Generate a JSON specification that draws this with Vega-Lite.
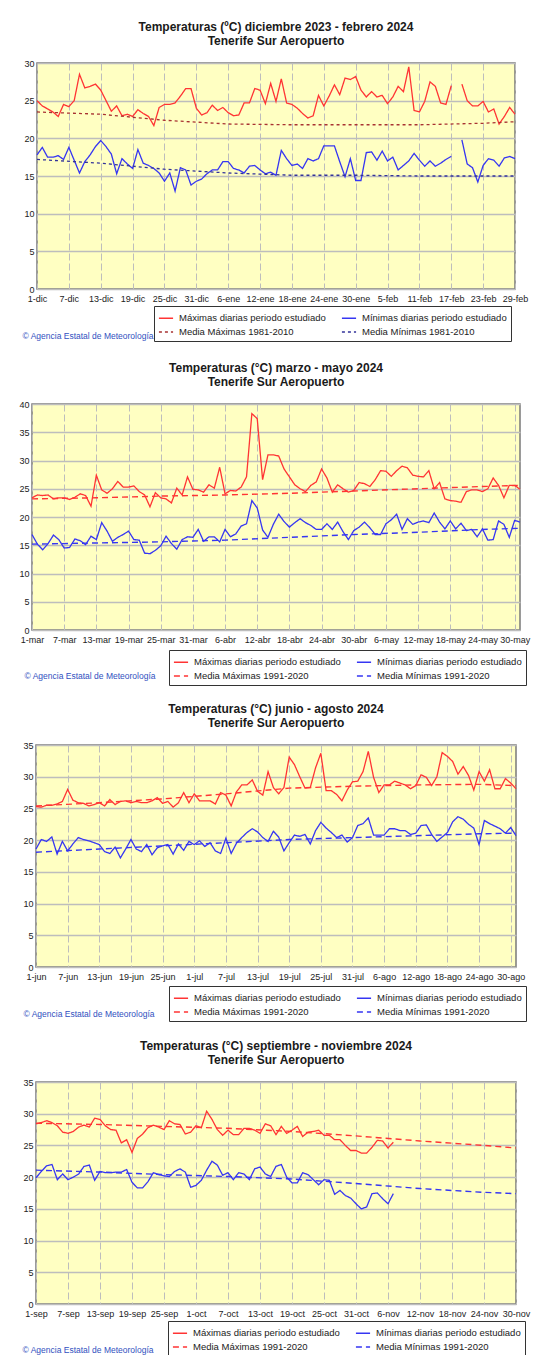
{
"$schema": "https://vega.github.io/schema/vega-lite/v6.json",
"background": "white",
"padding": {"left": 18, "top": 20, "right": 4, "bottom": 1},
"bounds": "flush",
"center": true,
"spacing": 115,
"datasets": {
"p1": [
{"d":"2023-12-01","max":25.0,"min":17.8},{"d":"2023-12-02","max":24.3,"min":18.8},{"d":"2023-12-03","max":23.9,"min":17.5},{"d":"2023-12-04","max":23.5,"min":17.5},{"d":"2023-12-05","max":22.9,"min":17.7},{"d":"2023-12-06","max":24.5,"min":17.2},{"d":"2023-12-07","max":24.2,"min":18.8},{"d":"2023-12-08","max":25.0,"min":17.1},{"d":"2023-12-09","max":28.5,"min":15.4},{"d":"2023-12-10","max":26.7,"min":16.9},{"d":"2023-12-11","max":26.9,"min":17.8},{"d":"2023-12-12","max":27.2,"min":18.9},{"d":"2023-12-13","max":26.4,"min":19.7},{"d":"2023-12-14","max":25.0,"min":18.9},{"d":"2023-12-15","max":23.6,"min":17.9},{"d":"2023-12-16","max":24.3,"min":15.3},{"d":"2023-12-17","max":23.0,"min":17.3},{"d":"2023-12-18","max":23.2,"min":16.6},{"d":"2023-12-19","max":22.9,"min":16.0},{"d":"2023-12-20","max":23.8,"min":18.5},{"d":"2023-12-21","max":23.3,"min":16.7},{"d":"2023-12-22","max":22.9,"min":16.4},{"d":"2023-12-23","max":21.7,"min":16.0},{"d":"2023-12-24","max":24.1,"min":15.4},{"d":"2023-12-25","max":24.5,"min":14.3},{"d":"2023-12-26","max":24.5,"min":15.4},{"d":"2023-12-27","max":24.7,"min":13.0},{"d":"2023-12-28","max":25.6,"min":16.1},{"d":"2023-12-29","max":26.6,"min":15.8},{"d":"2023-12-30","max":26.6,"min":13.8},{"d":"2023-12-31","max":24.0,"min":14.3},
{"d":"2024-01-01","max":23.1,"min":14.6},{"d":"2024-01-02","max":23.4,"min":15.3},{"d":"2024-01-03","max":24.4,"min":15.8},{"d":"2024-01-04","max":23.7,"min":15.8},{"d":"2024-01-05","max":24.1,"min":16.9},{"d":"2024-01-06","max":23.4,"min":16.9},{"d":"2024-01-07","max":23.0,"min":16.0},{"d":"2024-01-08","max":23.1,"min":15.8},{"d":"2024-01-09","max":24.7,"min":15.4},{"d":"2024-01-10","max":24.7,"min":16.3},{"d":"2024-01-11","max":26.6,"min":16.4},{"d":"2024-01-12","max":26.4,"min":15.8},{"d":"2024-01-13","max":24.6,"min":15.3},{"d":"2024-01-14","max":27.3,"min":15.5},{"d":"2024-01-15","max":24.9,"min":15.1},{"d":"2024-01-16","max":27.9,"min":18.4},{"d":"2024-01-17","max":24.7,"min":17.3},{"d":"2024-01-18","max":24.5,"min":16.4},{"d":"2024-01-19","max":24.0,"min":16.6},{"d":"2024-01-20","max":23.3,"min":16.0},{"d":"2024-01-21","max":22.7,"min":17.3},{"d":"2024-01-22","max":23.0,"min":17.0},{"d":"2024-01-23","max":25.7,"min":17.3},{"d":"2024-01-24","max":24.3,"min":19.0},{"d":"2024-01-25","max":25.6,"min":19.0},{"d":"2024-01-26","max":27.1,"min":19.0},{"d":"2024-01-27","max":25.8,"min":16.9},{"d":"2024-01-28","max":28.0,"min":14.9},{"d":"2024-01-29","max":27.8,"min":17.3},{"d":"2024-01-30","max":28.2,"min":14.4},{"d":"2024-01-31","max":26.4,"min":14.4},
{"d":"2024-02-01","max":25.5,"min":18.1},{"d":"2024-02-02","max":26.2,"min":18.2},{"d":"2024-02-03","max":25.5,"min":17.1},{"d":"2024-02-04","max":25.7,"min":18.3},{"d":"2024-02-05","max":24.6,"min":17.0},{"d":"2024-02-06","max":25.5,"min":17.5},{"d":"2024-02-07","max":26.9,"min":15.8},{"d":"2024-02-08","max":26.2,"min":16.4},{"d":"2024-02-09","max":29.5,"min":17.0},{"d":"2024-02-10","max":23.7,"min":18.0},{"d":"2024-02-11","max":23.5,"min":17.1},{"d":"2024-02-12","max":24.9,"min":16.3},{"d":"2024-02-13","max":27.5,"min":17.0},{"d":"2024-02-14","max":26.9,"min":16.3},{"d":"2024-02-15","max":24.7,"min":16.7},{"d":"2024-02-16","max":24.5,"min":17.2},{"d":"2024-02-17","max":27.0,"min":17.6},{"d":"2024-02-18","max":null,"min":null},{"d":"2024-02-19","max":27.2,"min":19.8},{"d":"2024-02-20","max":25.0,"min":16.6},{"d":"2024-02-21","max":24.3,"min":16.1},{"d":"2024-02-22","max":24.3,"min":14.2},{"d":"2024-02-23","max":24.9,"min":16.4},{"d":"2024-02-24","max":23.5,"min":17.3},{"d":"2024-02-25","max":23.9,"min":17.1},{"d":"2024-02-26","max":21.9,"min":16.3},{"d":"2024-02-27","max":22.9,"min":17.4},{"d":"2024-02-28","max":24.1,"min":17.6},{"d":"2024-02-29","max":23.2,"min":17.3}
],
"p1n": [
{"d":"2023-12-01","nmax":23.5,"nmin":17.2},{"d":"2023-12-13","nmax":23.2,"nmin":16.7},{"d":"2023-12-25","nmax":22.4,"nmin":15.9},{"d":"2024-01-06","nmax":21.9,"nmin":15.4},{"d":"2024-01-18","nmax":21.8,"nmin":15.1},{"d":"2024-01-30","nmax":21.8,"nmin":15.1},{"d":"2024-02-11","nmax":21.8,"nmin":15.0},{"d":"2024-02-23","nmax":22.0,"nmin":15.0},{"d":"2024-02-29","nmax":22.2,"nmin":15.0}
],
"p2": [
{"d":"2024-03-01","max":23.4,"min":16.9},{"d":"2024-03-02","max":23.9,"min":15.2},{"d":"2024-03-03","max":23.8,"min":14.2},{"d":"2024-03-04","max":23.9,"min":15.3},{"d":"2024-03-05","max":23.2,"min":16.8},{"d":"2024-03-06","max":23.4,"min":16.0},{"d":"2024-03-07","max":23.4,"min":14.5},{"d":"2024-03-08","max":23.1,"min":14.6},{"d":"2024-03-09","max":23.5,"min":16.1},{"d":"2024-03-10","max":24.1,"min":15.8},{"d":"2024-03-11","max":23.8,"min":15.1},{"d":"2024-03-12","max":21.9,"min":16.6},{"d":"2024-03-13","max":27.4,"min":16.0},{"d":"2024-03-14","max":24.8,"min":19.0},{"d":"2024-03-15","max":24.2,"min":17.5},{"d":"2024-03-16","max":25.0,"min":15.7},{"d":"2024-03-17","max":26.3,"min":16.4},{"d":"2024-03-18","max":25.3,"min":16.9},{"d":"2024-03-19","max":25.3,"min":17.5},{"d":"2024-03-20","max":25.5,"min":16.0},{"d":"2024-03-21","max":24.5,"min":15.9},{"d":"2024-03-22","max":23.9,"min":13.6},{"d":"2024-03-23","max":21.8,"min":13.5},{"d":"2024-03-24","max":24.3,"min":14.1},{"d":"2024-03-25","max":23.4,"min":14.9},{"d":"2024-03-26","max":23.2,"min":16.6},{"d":"2024-03-27","max":22.5,"min":15.3},{"d":"2024-03-28","max":25.1,"min":14.3},{"d":"2024-03-29","max":23.9,"min":16.0},{"d":"2024-03-30","max":27.1,"min":16.5},{"d":"2024-03-31","max":24.9,"min":16.4},
{"d":"2024-04-01","max":24.8,"min":17.8},{"d":"2024-04-02","max":24.4,"min":15.7},{"d":"2024-04-03","max":25.7,"min":16.5},{"d":"2024-04-04","max":25.1,"min":16.5},{"d":"2024-04-05","max":28.8,"min":15.6},{"d":"2024-04-06","max":24.1,"min":17.8},{"d":"2024-04-07","max":24.7,"min":16.5},{"d":"2024-04-08","max":24.6,"min":17.0},{"d":"2024-04-09","max":25.3,"min":18.4},{"d":"2024-04-10","max":27.1,"min":18.8},{"d":"2024-04-11","max":38.3,"min":22.9},{"d":"2024-04-12","max":37.4,"min":21.6},{"d":"2024-04-13","max":26.6,"min":17.7},{"d":"2024-04-14","max":31.0,"min":16.4},{"d":"2024-04-15","max":31.0,"min":18.7},{"d":"2024-04-16","max":30.8,"min":20.5},{"d":"2024-04-17","max":28.5,"min":19.2},{"d":"2024-04-18","max":27.1,"min":18.2},{"d":"2024-04-19","max":25.7,"min":19.0},{"d":"2024-04-20","max":25.0,"min":19.7},{"d":"2024-04-21","max":24.5,"min":19.0},{"d":"2024-04-22","max":25.6,"min":18.5},{"d":"2024-04-23","max":26.2,"min":17.8},{"d":"2024-04-24","max":28.5,"min":17.8},{"d":"2024-04-25","max":26.9,"min":18.8},{"d":"2024-04-26","max":24.4,"min":17.8},{"d":"2024-04-27","max":25.7,"min":19.1},{"d":"2024-04-28","max":25.0,"min":17.4},{"d":"2024-04-29","max":24.4,"min":16.0},{"d":"2024-04-30","max":24.7,"min":17.6},
{"d":"2024-05-01","max":26.1,"min":18.2},{"d":"2024-05-02","max":25.9,"min":19.1},{"d":"2024-05-03","max":25.4,"min":18.1},{"d":"2024-05-04","max":26.6,"min":16.9},{"d":"2024-05-05","max":28.2,"min":16.9},{"d":"2024-05-06","max":28.1,"min":18.8},{"d":"2024-05-07","max":27.2,"min":19.5},{"d":"2024-05-08","max":28.2,"min":20.5},{"d":"2024-05-09","max":29.0,"min":17.8},{"d":"2024-05-10","max":28.7,"min":19.7},{"d":"2024-05-11","max":27.4,"min":18.7},{"d":"2024-05-12","max":27.2,"min":19.1},{"d":"2024-05-13","max":27.1,"min":19.3},{"d":"2024-05-14","max":28.2,"min":19.0},{"d":"2024-05-15","max":25.0,"min":20.7},{"d":"2024-05-16","max":26.1,"min":19.1},{"d":"2024-05-17","max":23.2,"min":17.9},{"d":"2024-05-18","max":22.9,"min":19.3},{"d":"2024-05-19","max":22.8,"min":17.9},{"d":"2024-05-20","max":22.6,"min":18.9},{"d":"2024-05-21","max":24.5,"min":17.6},{"d":"2024-05-22","max":24.8,"min":17.8},{"d":"2024-05-23","max":24.8,"min":16.5},{"d":"2024-05-24","max":24.5,"min":17.9},{"d":"2024-05-25","max":25.0,"min":15.9},{"d":"2024-05-26","max":26.9,"min":16.0},{"d":"2024-05-27","max":25.6,"min":19.3},{"d":"2024-05-28","max":23.4,"min":18.7},{"d":"2024-05-29","max":25.6,"min":16.4},{"d":"2024-05-30","max":25.6,"min":19.4},{"d":"2024-05-31","max":24.9,"min":19.1}
],
"p2n": [
{"d":"2024-03-01","nmax":23.2,"nmin":15.2},{"d":"2024-03-13","nmax":23.4,"nmin":15.4},{"d":"2024-03-25","nmax":23.7,"nmin":15.6},{"d":"2024-04-06","nmax":23.9,"nmin":15.9},{"d":"2024-04-18","nmax":24.2,"nmin":16.4},{"d":"2024-04-30","nmax":24.6,"nmin":16.9},{"d":"2024-05-12","nmax":25.0,"nmin":17.3},{"d":"2024-05-24","nmax":25.4,"nmin":17.8},{"d":"2024-05-31","nmax":25.6,"nmin":18.0}
],
"p3": [
{"d":"2024-06-01","max":25.3,"min":18.6},{"d":"2024-06-02","max":25.2,"min":20.1},{"d":"2024-06-03","max":25.5,"min":19.8},{"d":"2024-06-04","max":25.5,"min":20.5},{"d":"2024-06-05","max":25.7,"min":17.8},{"d":"2024-06-06","max":26.1,"min":19.8},{"d":"2024-06-07","max":28.0,"min":18.3},{"d":"2024-06-08","max":26.3,"min":19.4},{"d":"2024-06-09","max":25.9,"min":20.4},{"d":"2024-06-10","max":25.8,"min":20.1},{"d":"2024-06-11","max":25.4,"min":19.9},{"d":"2024-06-12","max":25.6,"min":19.6},{"d":"2024-06-13","max":25.9,"min":19.3},{"d":"2024-06-14","max":25.4,"min":18.2},{"d":"2024-06-15","max":26.4,"min":17.9},{"d":"2024-06-16","max":25.6,"min":18.9},{"d":"2024-06-17","max":26.1,"min":17.2},{"d":"2024-06-18","max":26.2,"min":18.6},{"d":"2024-06-19","max":25.9,"min":20.1},{"d":"2024-06-20","max":26.1,"min":18.6},{"d":"2024-06-21","max":25.9,"min":18.2},{"d":"2024-06-22","max":25.9,"min":19.3},{"d":"2024-06-23","max":26.2,"min":17.7},{"d":"2024-06-24","max":26.7,"min":18.8},{"d":"2024-06-25","max":25.8,"min":19.1},{"d":"2024-06-26","max":26.1,"min":19.3},{"d":"2024-06-27","max":25.2,"min":17.8},{"d":"2024-06-28","max":25.9,"min":19.4},{"d":"2024-06-29","max":27.5,"min":18.4},{"d":"2024-06-30","max":25.9,"min":19.8},
{"d":"2024-07-01","max":27.3,"min":19.3},{"d":"2024-07-02","max":26.2,"min":19.9},{"d":"2024-07-03","max":26.2,"min":19.0},{"d":"2024-07-04","max":26.2,"min":19.6},{"d":"2024-07-05","max":25.7,"min":18.3},{"d":"2024-07-06","max":27.5,"min":17.9},{"d":"2024-07-07","max":27.1,"min":20.3},{"d":"2024-07-08","max":25.4,"min":17.9},{"d":"2024-07-09","max":27.6,"min":19.5},{"d":"2024-07-10","max":28.7,"min":20.4},{"d":"2024-07-11","max":28.7,"min":21.2},{"d":"2024-07-12","max":29.5,"min":21.8},{"d":"2024-07-13","max":27.7,"min":21.3},{"d":"2024-07-14","max":27.1,"min":20.4},{"d":"2024-07-15","max":30.8,"min":19.8},{"d":"2024-07-16","max":28.3,"min":21.4},{"d":"2024-07-17","max":27.3,"min":20.5},{"d":"2024-07-18","max":28.3,"min":18.3},{"d":"2024-07-19","max":33.1,"min":19.6},{"d":"2024-07-20","max":31.9,"min":20.8},{"d":"2024-07-21","max":30.0,"min":20.6},{"d":"2024-07-22","max":28.2,"min":20.9},{"d":"2024-07-23","max":28.3,"min":19.4},{"d":"2024-07-24","max":31.4,"min":21.5},{"d":"2024-07-25","max":33.7,"min":22.8},{"d":"2024-07-26","max":27.8,"min":21.9},{"d":"2024-07-27","max":27.8,"min":21.2},{"d":"2024-07-28","max":27.2,"min":20.4},{"d":"2024-07-29","max":26.2,"min":20.8},{"d":"2024-07-30","max":27.9,"min":19.7},{"d":"2024-07-31","max":29.2,"min":20.4},
{"d":"2024-08-01","max":29.3,"min":22.3},{"d":"2024-08-02","max":30.8,"min":22.6},{"d":"2024-08-03","max":34.0,"min":23.5},{"d":"2024-08-04","max":29.9,"min":20.8},{"d":"2024-08-05","max":27.5,"min":20.8},{"d":"2024-08-06","max":28.7,"min":20.8},{"d":"2024-08-07","max":28.7,"min":21.8},{"d":"2024-08-08","max":29.3,"min":21.8},{"d":"2024-08-09","max":29.0,"min":21.5},{"d":"2024-08-10","max":28.7,"min":21.5},{"d":"2024-08-11","max":28.1,"min":20.9},{"d":"2024-08-12","max":28.6,"min":21.1},{"d":"2024-08-13","max":30.3,"min":22.3},{"d":"2024-08-14","max":29.9,"min":22.4},{"d":"2024-08-15","max":28.6,"min":20.9},{"d":"2024-08-16","max":30.0,"min":19.8},{"d":"2024-08-17","max":33.8,"min":20.5},{"d":"2024-08-18","max":33.2,"min":21.2},{"d":"2024-08-19","max":32.4,"min":22.9},{"d":"2024-08-20","max":30.4,"min":23.7},{"d":"2024-08-21","max":31.6,"min":23.3},{"d":"2024-08-22","max":30.2,"min":22.5},{"d":"2024-08-23","max":27.9,"min":21.9},{"d":"2024-08-24","max":30.8,"min":19.3},{"d":"2024-08-25","max":29.3,"min":23.1},{"d":"2024-08-26","max":31.1,"min":22.6},{"d":"2024-08-27","max":28.1,"min":22.2},{"d":"2024-08-28","max":28.1,"min":21.8},{"d":"2024-08-29","max":29.7,"min":21.1},{"d":"2024-08-30","max":29.0,"min":22.0},{"d":"2024-08-31","max":28.1,"min":20.7}
],
"p3n": [
{"d":"2024-06-01","nmax":25.4,"nmin":18.1},{"d":"2024-06-13","nmax":25.9,"nmin":18.6},{"d":"2024-06-25","nmax":26.5,"nmin":19.1},{"d":"2024-07-07","nmax":27.3,"nmin":19.6},{"d":"2024-07-19","nmax":28.2,"nmin":20.1},{"d":"2024-07-31","nmax":28.5,"nmin":20.4},{"d":"2024-08-12","nmax":28.7,"nmin":20.7},{"d":"2024-08-24","nmax":28.8,"nmin":21.0},{"d":"2024-08-31","nmax":28.6,"nmin":21.1}
],
"p4": [
{"d":"2024-09-01","max":28.4,"min":19.9},{"d":"2024-09-02","max":28.6,"min":20.9},{"d":"2024-09-03","max":28.9,"min":21.8},{"d":"2024-09-04","max":28.6,"min":22.0},{"d":"2024-09-05","max":28.1,"min":19.6},{"d":"2024-09-06","max":27.1,"min":20.5},{"d":"2024-09-07","max":26.9,"min":19.6},{"d":"2024-09-08","max":27.2,"min":20.0},{"d":"2024-09-09","max":27.9,"min":20.5},{"d":"2024-09-10","max":28.2,"min":21.7},{"d":"2024-09-11","max":27.9,"min":21.9},{"d":"2024-09-12","max":29.3,"min":19.5},{"d":"2024-09-13","max":29.1,"min":20.9},{"d":"2024-09-14","max":28.1,"min":20.7},{"d":"2024-09-15","max":27.5,"min":20.7},{"d":"2024-09-16","max":27.4,"min":20.8},{"d":"2024-09-17","max":25.4,"min":20.8},{"d":"2024-09-18","max":25.9,"min":21.2},{"d":"2024-09-19","max":23.9,"min":19.2},{"d":"2024-09-20","max":26.1,"min":18.3},{"d":"2024-09-21","max":26.8,"min":18.3},{"d":"2024-09-22","max":27.8,"min":19.3},{"d":"2024-09-23","max":28.2,"min":20.7},{"d":"2024-09-24","max":27.9,"min":20.4},{"d":"2024-09-25","max":27.5,"min":20.2},{"d":"2024-09-26","max":28.9,"min":20.1},{"d":"2024-09-27","max":28.4,"min":20.9},{"d":"2024-09-28","max":28.3,"min":21.3},{"d":"2024-09-29","max":26.8,"min":20.8},{"d":"2024-09-30","max":27.1,"min":18.4},
{"d":"2024-10-01","max":28.1,"min":18.7},{"d":"2024-10-02","max":27.8,"min":19.5},{"d":"2024-10-03","max":30.4,"min":21.1},{"d":"2024-10-04","max":29.1,"min":22.5},{"d":"2024-10-05","max":27.5,"min":21.9},{"d":"2024-10-06","max":26.6,"min":20.3},{"d":"2024-10-07","max":27.4,"min":20.7},{"d":"2024-10-08","max":26.7,"min":19.6},{"d":"2024-10-09","max":26.7,"min":20.7},{"d":"2024-10-10","max":27.7,"min":20.5},{"d":"2024-10-11","max":27.7,"min":19.6},{"d":"2024-10-12","max":27.4,"min":21.3},{"d":"2024-10-13","max":26.9,"min":21.6},{"d":"2024-10-14","max":28.4,"min":20.5},{"d":"2024-10-15","max":28.1,"min":20.1},{"d":"2024-10-16","max":26.7,"min":21.7},{"d":"2024-10-17","max":28.0,"min":22.0},{"d":"2024-10-18","max":26.9,"min":20.0},{"d":"2024-10-19","max":27.4,"min":19.1},{"d":"2024-10-20","max":28.0,"min":19.1},{"d":"2024-10-21","max":26.4,"min":20.7},{"d":"2024-10-22","max":27.1,"min":20.4},{"d":"2024-10-23","max":27.2,"min":19.6},{"d":"2024-10-24","max":27.4,"min":18.8},{"d":"2024-10-25","max":26.6,"min":19.6},{"d":"2024-10-26","max":26.6,"min":19.5},{"d":"2024-10-27","max":25.9,"min":17.3},{"d":"2024-10-28","max":25.9,"min":17.9},{"d":"2024-10-29","max":25.0,"min":17.1},{"d":"2024-10-30","max":24.2,"min":16.7},{"d":"2024-10-31","max":24.2,"min":15.8},
{"d":"2024-11-01","max":23.8,"min":15.0},{"d":"2024-11-02","max":23.8,"min":15.3},{"d":"2024-11-03","max":24.7,"min":17.4},{"d":"2024-11-04","max":25.8,"min":17.5},{"d":"2024-11-05","max":25.7,"min":16.6},{"d":"2024-11-06","max":24.6,"min":15.8},{"d":"2024-11-07","max":25.5,"min":17.4}
],
"p4n": [
{"d":"2024-09-01","nmax":28.5,"nmin":21.1},{"d":"2024-09-13","nmax":28.3,"nmin":20.8},{"d":"2024-09-25","nmax":28.0,"nmin":20.4},{"d":"2024-10-07","nmax":27.7,"nmin":20.1},{"d":"2024-10-19","nmax":27.2,"nmin":19.7},{"d":"2024-10-31","nmax":26.5,"nmin":19.0},{"d":"2024-11-12","nmax":25.7,"nmin":18.2},{"d":"2024-11-24","nmax":25.0,"nmin":17.6},{"d":"2024-11-30","nmax":24.6,"nmin":17.4}
]
},
"vconcat": [
{
"width": 478, "height": 226,
"title": {"text": ["Temperaturas (ºC) diciembre 2023 - febrero 2024", "Tenerife Sur Aeropuerto"]},
"encoding": {
"x": {"field": "d", "type": "temporal", "scale": {"type": "utc", "domain": [{"year":2023,"month":12,"date":1,"utc":true},{"year":2024,"month":2,"date":29,"utc":true}]},
"axis": {"values": [{"year":2023,"month":12,"date":1,"utc":true},{"year":2023,"month":12,"date":7,"utc":true},{"year":2023,"month":12,"date":13,"utc":true},{"year":2023,"month":12,"date":19,"utc":true},{"year":2023,"month":12,"date":25,"utc":true},{"year":2023,"month":12,"date":31,"utc":true},{"year":2024,"month":1,"date":6,"utc":true},{"year":2024,"month":1,"date":12,"utc":true},{"year":2024,"month":1,"date":18,"utc":true},{"year":2024,"month":1,"date":24,"utc":true},{"year":2024,"month":1,"date":30,"utc":true},{"year":2024,"month":2,"date":5,"utc":true},{"year":2024,"month":2,"date":11,"utc":true},{"year":2024,"month":2,"date":17,"utc":true},{"year":2024,"month":2,"date":23,"utc":true},{"year":2024,"month":2,"date":29,"utc":true}],
"labelExpr": "utcdate(datum.value) + '-' + ['ene','feb','mar','abr','may','jun','jul','ago','sep','oct','nov','dic'][utcmonth(datum.value)]",
"title": "© Agencia Estatal de Meteorología", "titleX": -15, "titleY": 46}},
"y": {"field": "t", "type": "quantitative", "scale": {"domain": [0, 30], "nice": false}, "axis": {"values": [0,5,10,15,20,25,30], "title": null}},
"color": {"field": "serie", "type": "nominal", "scale": {"domain": ["max","nmax","min","nmin"], "range": ["#FF3434","#A83232","#3636F2","#33339A"]},
"legend": {"orient": "none", "legendX": 117, "legendY": 243, "columns": 2, "title": null, "labelExpr": "datum.label == 'max' ? 'Máximas diarias periodo estudiado' : datum.label == 'min' ? 'Mínimas diarias periodo estudiado' : datum.label == 'nmax' ? 'Media Máximas 1981-2010' : 'Media Mínimas 1981-2010'"}},
"strokeDash": {"field": "serie", "type": "nominal", "scale": {"domain": ["max","nmax","min","nmin"], "range": [[1,0],[3,3],[1,0],[3,3]]},
"legend": {"orient": "none", "legendX": 117, "legendY": 243, "columns": 2, "title": null, "labelExpr": "datum.label == 'max' ? 'Máximas diarias periodo estudiado' : datum.label == 'min' ? 'Mínimas diarias periodo estudiado' : datum.label == 'nmax' ? 'Media Máximas 1981-2010' : 'Media Mínimas 1981-2010'"}}
},
"layer": [
{"data": {"name": "p1"}, "transform": [{"fold": ["max","min"], "as": ["serie","t"]}], "mark": {"type": "line", "strokeWidth": 1.3, "invalid": "break-paths-filter-domains"}},
{"data": {"name": "p1n"}, "transform": [{"fold": ["nmax","nmin"], "as": ["serie","t"]}], "mark": {"type": "line", "strokeWidth": 1.3}}
]
},
{
"width": 488, "height": 226,
"title": {"text": ["Temperaturas (°C) marzo  - mayo 2024", "Tenerife Sur Aeropuerto"]},
"encoding": {
"x": {"field": "d", "type": "temporal", "scale": {"type": "utc", "domain": [{"year":2024,"month":3,"date":1,"utc":true},{"year":2024,"month":5,"date":31,"utc":true}]},
"axis": {"values": [{"year":2024,"month":3,"date":1,"utc":true},{"year":2024,"month":3,"date":7,"utc":true},{"year":2024,"month":3,"date":13,"utc":true},{"year":2024,"month":3,"date":19,"utc":true},{"year":2024,"month":3,"date":25,"utc":true},{"year":2024,"month":3,"date":31,"utc":true},{"year":2024,"month":4,"date":6,"utc":true},{"year":2024,"month":4,"date":12,"utc":true},{"year":2024,"month":4,"date":18,"utc":true},{"year":2024,"month":4,"date":24,"utc":true},{"year":2024,"month":4,"date":30,"utc":true},{"year":2024,"month":5,"date":6,"utc":true},{"year":2024,"month":5,"date":12,"utc":true},{"year":2024,"month":5,"date":18,"utc":true},{"year":2024,"month":5,"date":24,"utc":true},{"year":2024,"month":5,"date":30,"utc":true}],
"labelExpr": "utcdate(datum.value) + '-' + ['ene','feb','mar','abr','may','jun','jul','ago','sep','oct','nov','dic'][utcmonth(datum.value)]",
"title": "© Agencia Estatal de Meteorología", "titleX": -8, "titleY": 45}},
"y": {"field": "t", "type": "quantitative", "scale": {"domain": [0, 40], "nice": false}, "axis": {"values": [0,5,10,15,20,25,30,35,40], "title": null}},
"color": {"field": "serie", "type": "nominal", "scale": {"domain": ["max","nmax","min","nmin"], "range": ["#FF3434","#FF3434","#3636F2","#3636F2"]},
"legend": {"orient": "none", "legendX": 137, "legendY": 246, "columns": 2, "title": null, "labelExpr": "datum.label == 'max' ? 'Máximas diarias periodo estudiado' : datum.label == 'min' ? 'Mínimas diarias periodo estudiado' : datum.label == 'nmax' ? 'Media Máximas 1991-2020' : 'Media Mínimas 1991-2020'"}},
"strokeDash": {"field": "serie", "type": "nominal", "scale": {"domain": ["max","nmax","min","nmin"], "range": [[1,0],[6,4],[1,0],[6,4]]},
"legend": {"orient": "none", "legendX": 137, "legendY": 246, "columns": 2, "title": null, "labelExpr": "datum.label == 'max' ? 'Máximas diarias periodo estudiado' : datum.label == 'min' ? 'Mínimas diarias periodo estudiado' : datum.label == 'nmax' ? 'Media Máximas 1991-2020' : 'Media Mínimas 1991-2020'"}}
},
"layer": [
{"data": {"name": "p2"}, "transform": [{"fold": ["max","min"], "as": ["serie","t"]}], "mark": {"type": "line", "strokeWidth": 1.3}},
{"data": {"name": "p2n"}, "transform": [{"fold": ["nmax","nmin"], "as": ["serie","t"]}], "mark": {"type": "line", "strokeWidth": 1.4}}
]
},
{
"width": 480, "height": 222,
"title": {"text": ["Temperaturas (°C) junio - agosto 2024", "Tenerife Sur Aeropuerto"]},
"encoding": {
"x": {"field": "d", "type": "temporal", "scale": {"type": "utc", "domain": [{"year":2024,"month":6,"date":1,"utc":true},{"year":2024,"month":8,"date":31,"utc":true}]},
"axis": {"values": [{"year":2024,"month":6,"date":1,"utc":true},{"year":2024,"month":6,"date":7,"utc":true},{"year":2024,"month":6,"date":13,"utc":true},{"year":2024,"month":6,"date":19,"utc":true},{"year":2024,"month":6,"date":25,"utc":true},{"year":2024,"month":7,"date":1,"utc":true},{"year":2024,"month":7,"date":7,"utc":true},{"year":2024,"month":7,"date":13,"utc":true},{"year":2024,"month":7,"date":19,"utc":true},{"year":2024,"month":7,"date":25,"utc":true},{"year":2024,"month":7,"date":31,"utc":true},{"year":2024,"month":8,"date":6,"utc":true},{"year":2024,"month":8,"date":12,"utc":true},{"year":2024,"month":8,"date":18,"utc":true},{"year":2024,"month":8,"date":24,"utc":true},{"year":2024,"month":8,"date":30,"utc":true}],
"labelExpr": "utcdate(datum.value) + '-' + ['ene','feb','mar','abr','may','jun','jul','ago','sep','oct','nov','dic'][utcmonth(datum.value)]",
"title": "© Agencia Estatal de Meteorología", "titleX": -13, "titleY": 46}},
"y": {"field": "t", "type": "quantitative", "scale": {"domain": [0, 35], "nice": false}, "axis": {"values": [0,5,10,15,20,25,30,35], "title": null}},
"color": {"field": "serie", "type": "nominal", "scale": {"domain": ["max","nmax","min","nmin"], "range": ["#FF3434","#FF3434","#3636F2","#3636F2"]},
"legend": {"orient": "none", "legendX": 133, "legendY": 241, "columns": 2, "title": null, "labelExpr": "datum.label == 'max' ? 'Máximas diarias periodo estudiado' : datum.label == 'min' ? 'Mínimas diarias periodo estudiado' : datum.label == 'nmax' ? 'Media Máximas 1991-2020' : 'Media Mínimas 1991-2020'"}},
"strokeDash": {"field": "serie", "type": "nominal", "scale": {"domain": ["max","nmax","min","nmin"], "range": [[1,0],[6,4],[1,0],[6,4]]},
"legend": {"orient": "none", "legendX": 133, "legendY": 241, "columns": 2, "title": null, "labelExpr": "datum.label == 'max' ? 'Máximas diarias periodo estudiado' : datum.label == 'min' ? 'Mínimas diarias periodo estudiado' : datum.label == 'nmax' ? 'Media Máximas 1991-2020' : 'Media Mínimas 1991-2020'"}}
},
"layer": [
{"data": {"name": "p3"}, "transform": [{"fold": ["max","min"], "as": ["serie","t"]}], "mark": {"type": "line", "strokeWidth": 1.3}},
{"data": {"name": "p3n"}, "transform": [{"fold": ["nmax","nmin"], "as": ["serie","t"]}], "mark": {"type": "line", "strokeWidth": 1.4}}
]
},
{
"width": 480, "height": 222,
"title": {"text": ["Temperaturas (°C) septiembre  - noviembre 2024", "Tenerife Sur Aeropuerto"]},
"encoding": {
"x": {"field": "d", "type": "temporal", "scale": {"type": "utc", "domain": [{"year":2024,"month":9,"date":1,"utc":true},{"year":2024,"month":11,"date":30,"utc":true}]},
"axis": {"values": [{"year":2024,"month":9,"date":1,"utc":true},{"year":2024,"month":9,"date":7,"utc":true},{"year":2024,"month":9,"date":13,"utc":true},{"year":2024,"month":9,"date":19,"utc":true},{"year":2024,"month":9,"date":25,"utc":true},{"year":2024,"month":10,"date":1,"utc":true},{"year":2024,"month":10,"date":7,"utc":true},{"year":2024,"month":10,"date":13,"utc":true},{"year":2024,"month":10,"date":19,"utc":true},{"year":2024,"month":10,"date":25,"utc":true},{"year":2024,"month":10,"date":31,"utc":true},{"year":2024,"month":11,"date":6,"utc":true},{"year":2024,"month":11,"date":12,"utc":true},{"year":2024,"month":11,"date":18,"utc":true},{"year":2024,"month":11,"date":24,"utc":true},{"year":2024,"month":11,"date":30,"utc":true}],
"labelExpr": "utcdate(datum.value) + '-' + ['ene','feb','mar','abr','may','jun','jul','ago','sep','oct','nov','dic'][utcmonth(datum.value)]",
"title": "© Agencia Estatal de Meteorología", "titleX": -14, "titleY": 45}},
"y": {"field": "t", "type": "quantitative", "scale": {"domain": [0, 35], "nice": false}, "axis": {"values": [0,5,10,15,20,25,30,35], "title": null}},
"color": {"field": "serie", "type": "nominal", "scale": {"domain": ["max","nmax","min","nmin"], "range": ["#FF3434","#FF3434","#3636F2","#3636F2"]},
"legend": {"orient": "none", "legendX": 132, "legendY": 239, "columns": 2, "title": null, "labelExpr": "datum.label == 'max' ? 'Máximas diarias periodo estudiado' : datum.label == 'min' ? 'Mínimas diarias periodo estudiado' : datum.label == 'nmax' ? 'Media Máximas 1991-2020' : 'Media Mínimas 1991-2020'"}},
"strokeDash": {"field": "serie", "type": "nominal", "scale": {"domain": ["max","nmax","min","nmin"], "range": [[1,0],[6,4],[1,0],[6,4]]},
"legend": {"orient": "none", "legendX": 132, "legendY": 239, "columns": 2, "title": null, "labelExpr": "datum.label == 'max' ? 'Máximas diarias periodo estudiado' : datum.label == 'min' ? 'Mínimas diarias periodo estudiado' : datum.label == 'nmax' ? 'Media Máximas 1991-2020' : 'Media Mínimas 1991-2020'"}}
},
"layer": [
{"data": {"name": "p4"}, "transform": [{"fold": ["max","min"], "as": ["serie","t"]}], "mark": {"type": "line", "strokeWidth": 1.3}},
{"data": {"name": "p4n"}, "transform": [{"fold": ["nmax","nmin"], "as": ["serie","t"]}], "mark": {"type": "line", "strokeWidth": 1.4}}
]
}
],
"resolve": {"scale": {"x": "independent", "y": "independent", "color": "independent", "strokeDash": "independent"}, "legend": {"color": "independent", "strokeDash": "independent"}},
"config": {
"font": "Liberation Sans",
"view": {"fill": "#FFFFC2", "stroke": "#7A7A7A", "strokeWidth": 1.5},
"title": {"font": "Liberation Sans", "fontSize": 12, "fontWeight": "bold", "color": "#1A1A1A", "lineHeight": 14, "offset": 11, "anchor": "middle"},
"axis": {"labelFont": "Liberation Sans", "labelFontSize": 9, "labelColor": "#222222", "domain": false, "ticks": false, "grid": true, "gridColor": "#BDBDBD",
"titleFont": "Liberation Sans", "titleFontSize": 8.5, "titleFontWeight": "normal", "titleColor": "#3050C0", "titleAnchor": "start", "titleAlign": "left", "titleBaseline": "middle"},
"axisX": {"gridDash": [7, 3], "gridWidth": 1, "labelPadding": 5, "labelFlush": false},
"axisY": {"gridWidth": 1.3, "labelPadding": 3},
"legend": {"strokeColor": "#333333", "fillColor": "#FFFFFF", "padding": 4, "labelFont": "Liberation Sans", "labelFontSize": 9.5, "labelColor": "#222222", "symbolType": "stroke", "symbolSize": 200, "symbolStrokeWidth": 1.5, "columnPadding": 12, "rowPadding": 1, "labelOffset": 5, "labelLimit": 260}
}
}
